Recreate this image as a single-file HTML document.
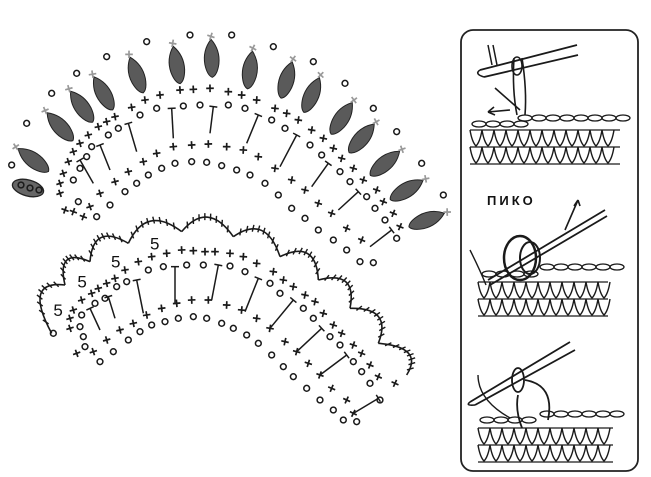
<!DOCTYPE html>
<html><head><meta charset="utf-8"><style>
html,body{margin:0;padding:0;background:#fff;width:651px;height:477px;overflow:hidden}
svg{display:block}
</style></head><body>
<svg id="s" width="651" height="477" viewBox="0 0 651 477" xmlns="http://www.w3.org/2000/svg">
<rect x="461" y="30" width="177" height="441" rx="12" fill="#fff" stroke="#222" stroke-width="1.8"/>
<g id="g" stroke="#1a1a1a" fill="none" stroke-width="1.3"></g>
<text x="487" y="205" font-family="Liberation Sans, sans-serif" font-size="13" font-weight="bold" letter-spacing="3" fill="#111">ПИКО</text>
<g id="t" font-family="Liberation Sans, sans-serif" font-size="17" fill="#111"></g>
</svg>
<script>
var NS="http://www.w3.org/2000/svg",g=document.getElementById('g'),T=document.getElementById('t');
function el(n,a,p){var e=document.createElementNS(NS,n);for(var k in a)e.setAttribute(k,a[k]);(p||g).appendChild(e);return e;}
function circ(p){el('circle',{cx:p[0],cy:p[1],r:2.9,'stroke-width':1.5});}
function cross(p,rot,col){var s=3.8;el('path',{d:'M'+(p[0]-s)+' '+p[1]+'h'+2*s+'M'+p[0]+' '+(p[1]-s)+'v'+2*s,'stroke-width':1.7,transform:'rotate('+(rot||0)+' '+p[0]+' '+p[1]+')',stroke:col||'#1a1a1a'});}
function Z(a,ox,oy){return a.map(function(p){return [p[0]/3+ox,p[1]/3+oy];});}
var FC1=[220,300],FC2=[210,440];
function ang(p,c){return Math.atan2(p[1]-c[1],p[0]-c[0])*180/Math.PI+90;}
// ---------- TOP FAN
var o=Z([[35,435],[80,310],[155,220],[230,160],[320,110],[440,65],[570,45],[695,45],[820,80],[940,125],[1035,190],[1120,265],[1190,335],[1265,430],[1330,525]],0,20);
o.forEach(circ);
var lv=Z([[100,420],[180,320],[245,260],[310,220],[410,165],[530,135],[635,115],[750,150],[860,180],[935,225],[1025,295],[1085,355],[1155,430],[1220,510],[1280,600]],0,20);
lv.forEach(function(p){var a=ang(p,FC1);
 el('path',{d:'M0 -19 Q9 -8 7 6 Q5 17 0 19 Q-5 17 -7 6 Q-9 -8 0 -19Z',fill:'#5a5a5a',stroke:'#222','stroke-width':1,transform:'translate('+p[0]+' '+p[1]+') rotate('+a+')'});
 var r=a*Math.PI/180;var q=[p[0]+22*Math.sin(r),p[1]-22*Math.cos(r)];cross(q,a+20,'#999');});
el('ellipse',{cx:28,cy:188,rx:16,ry:8,fill:'#666',stroke:'#222',transform:'rotate(15 28 188)'});
[[21,185],[30,188],[39,190]].forEach(circ);
var r1=Z([[180,490],[190,460],[205,425],[220,395],[240,370],[265,345],[295,320],[320,305],[345,290],[395,262],[435,240],[480,225],[540,210],[580,208],[630,205],[685,215],[725,225],[770,240],[825,265],[860,280],[895,300],[935,330],[970,355],[1000,385],[1025,415],[1060,445],[1090,480],[1130,510],[1150,545],[1180,580],[1200,620]],0,20);
r1.forEach(function(p){cross(p,ang(p,FC1)/3);});
var c1=Z([[220,480],[240,445],[260,410],[275,380],[325,345],[355,325],[420,285],[470,265],[550,258],[600,255],[685,255],[735,265],[815,300],[855,325],[930,375],[965,405],[1020,455],[1050,485],[1100,530],[1125,565],[1155,600],[1190,655]],0,20);
c1.forEach(circ);
var m1=Z([[180,520],[270,560],[300,520],[345,485],[385,455],[430,425],[470,400],[520,380],[575,375],[625,372],[680,380],[730,390],[775,410],[825,445],[875,480],[915,510],[955,550],[995,580],[1040,625],[1085,660]],0,20);
m1.forEach(function(p){cross(p,ang(p,FC1)/3);});
var i1=Z([[235,545],[290,590],[330,555],[375,515],[410,490],[445,465],[485,445],[525,430],[575,425],[620,427],[665,437],[710,450],[750,465],[795,490],[835,525],[875,565],[915,595],[955,630],[1000,660],[1040,690],[1080,725],[1120,728]],0,20);
i1.forEach(circ);
[[195,570],[220,575],[250,590]].forEach(function(p){cross([p[0]/3,p[1]/3+20],20);});
function stick(s,oy){var a=Z(s,0,oy);el('path',{d:'M'+a[0]+'L'+a[1],'stroke-width':1.5});var dx=a[1][0]-a[0][0],dy=a[1][1]-a[0][1],L=Math.hypot(dx,dy);var nx=-dy/L*4,ny=dx/L*4;el('path',{d:'M'+(a[1][0]-nx)+' '+(a[1][1]-ny)+'L'+(a[1][0]+nx)+' '+(a[1][1]+ny),'stroke-width':1.5});}
[[[410,395],[385,310]],[[330,450],[300,375]],[[280,490],[240,420]],[[520,355],[515,265]],[[630,340],[640,260]],[[740,370],[775,285]],[[840,440],[890,345]],[[935,500],[985,430]],[[1015,570],[1075,515]],[[1110,680],[1175,630]]].forEach(function(s){stick(s,20);});
// ---------- BOTTOM FAN
var J=Z([[155,400],[195,255],[270,185],[385,130],[545,95],[700,110],[840,170],[955,240],[1050,325],[1135,430],[1220,525]],0,200);
var FC=[205,430];
for(var i=0;i<J.length-1;i++){var a=J[i],b=J[i+1];var mx=(a[0]+b[0])/2,my=(a[1]+b[1])/2;var dx=mx-FC[0],dy=my-FC[1],L=Math.hypot(dx,dy);var h=i==0?46:34;var cx=mx+dx/L*h,cy=my+dy/L*h;
 el('path',{d:'M'+a+'Q'+cx+' '+cy+' '+b,'stroke-width':1.6});
 for(var k=1;k<9;k++){var t=k/9;var px=(1-t)*(1-t)*a[0]+2*t*(1-t)*cx+t*t*b[0],py=(1-t)*(1-t)*a[1]+2*t*(1-t)*cy+t*t*b[1];var ddx=px-FC[0],ddy=py-FC[1],LL=Math.hypot(ddx,ddy);el('path',{d:'M'+(px-ddx/LL*3)+' '+(py-ddy/LL*3)+'L'+(px+ddx/LL*4)+' '+(py+ddy/LL*4),'stroke-width':1.4});}}
[[160,330],[232,245],[333,185],[450,130]].forEach(function(p){var t=el('text',{x:p[0]/3,y:p[1]/3+200+6},T);t.textContent='5';});
circ([160/3,400/3+200]);
var r2=Z([[210,355],[220,330],[245,300],[275,280],[295,265],[320,250],[345,235],[375,210],[415,185],[455,170],[500,160],[545,150],[580,152],[615,155],[645,155],[690,160],[730,170],[770,190],[820,215],[850,240],[880,260],[915,285],[945,305],[970,340],[1000,375],[1025,400],[1060,435],[1085,460],[1110,495],[1135,530],[1185,550]],0,200);
r2.forEach(function(p){cross(p,ang(p,FC2)/3);});
var c2=Z([[240,380],[245,345],[285,310],[315,295],[350,260],[380,245],[445,210],[490,200],[560,195],[610,195],[690,198],[735,215],[810,250],[840,280],[910,325],[940,355],[990,410],[1020,435],[1060,485],[1085,515],[1110,550],[1140,600]],0,200);
c2.forEach(circ);
var m2=Z([[210,385],[230,460],[280,455],[320,420],[360,390],[400,370],[440,345],[485,325],[530,310],[575,300],[625,300],[680,315],[725,330],[770,355],[810,385],[855,425],[890,455],[925,490],[960,525],[995,565],[1040,600],[1060,640]],0,200);
m2.forEach(function(p){cross(p,ang(p,FC2)/3);});
var i2=Z([[250,410],[255,440],[300,485],[340,455],[385,420],[420,395],[455,375],[495,365],[535,355],[580,350],[620,355],[665,370],[700,385],[740,405],[775,430],[815,465],[850,500],[880,530],[920,565],[960,600],[1000,630],[1030,660],[1070,665]],0,200);
i2.forEach(circ);
[[[300,390],[270,325]],[[345,355],[325,290]],[[430,340],[410,240]],[[525,310],[525,200]],[[635,300],[655,195]],[[735,335],[775,235]],[[810,385],[880,300]],[[890,455],[965,385]],[[960,525],[1040,465]],[[1060,640],[1135,595]]].forEach(function(s){stick(s,200);});
// ---------- PANEL swatches
function swatch(x,y,w,rows){for(var r=0;r<rows;r++){var yy=y+r*17;for(var xx=x;xx<x+w-8;xx+=12){
 el('path',{d:'M'+xx+' '+yy+'Q'+(xx+2)+' '+(yy+12)+' '+(xx+6)+' '+(yy+16)+'Q'+(xx+10)+' '+(yy+12)+' '+(xx+12)+' '+yy,'stroke-width':1.4});}
 el('path',{d:'M'+x+' '+yy+'H'+(x+w),'stroke-width':1.2});}
 el('path',{d:'M'+x+' '+(y+rows*17)+'H'+(x+w),'stroke-width':1.2});}
swatch(470,130,150,2);swatch(478,282,130,2);swatch(478,428,135,2);
function chain(x,y,w){for(var xx=x;xx<x+w;xx+=14){el('ellipse',{cx:xx+7,cy:y,rx:7,ry:3,'stroke-width':1.3});}}
chain(518,118,100);chain(472,124,45);chain(540,267,75);chain(482,274,55);chain(540,414,75);chain(480,420,55);
el('path',{d:'M480 70 L577 45 M484 77 L578 55','stroke-width':1.8});
el('path',{d:'M480 70 Q474 74 484 77','stroke-width':1.6});
el('path',{d:'M488 45 L492 65 M493 45 L497 65','stroke-width':1.5});
el('path',{d:'M514 58 Q512 90 517 115 M522 58 Q527 90 525 115','stroke-width':1.6});
el('ellipse',{cx:517,cy:66,rx:5,ry:9,'stroke-width':1.6});
el('path',{d:'M495 88 L520 110 M510 110 L488 112','stroke-width':1.6});
el('path',{d:'M488 112 l6 -5 M488 112 l7 3','stroke-width':1.6});
el('path',{d:'M488 280 L605 210 M490 285 L607 216','stroke-width':1.8});
el('ellipse',{cx:520,cy:258,rx:16,ry:22,'stroke-width':2.5});
el('ellipse',{cx:530,cy:258,rx:10,ry:16,'stroke-width':2});
el('path',{d:'M565 230 L578 200 M578 200 l-4 6 M578 200 l2 6','stroke-width':1.6});
el('path',{d:'M470 250 Q480 270 486 285','stroke-width':1.4});
el('path',{d:'M470 402 L570 342 M475 405 L575 350','stroke-width':1.8});
el('path',{d:'M470 402 q-5 4 5 3','stroke-width':1.6});
el('ellipse',{cx:518,cy:380,rx:6,ry:12,'stroke-width':1.8});
el('path',{d:'M525 380 Q555 385 548 420 M518 395 Q515 410 522 428','stroke-width':1.8});
el('path',{d:'M478 375 Q478 400 510 418','stroke-width':1.4});
</script>
</body></html>
